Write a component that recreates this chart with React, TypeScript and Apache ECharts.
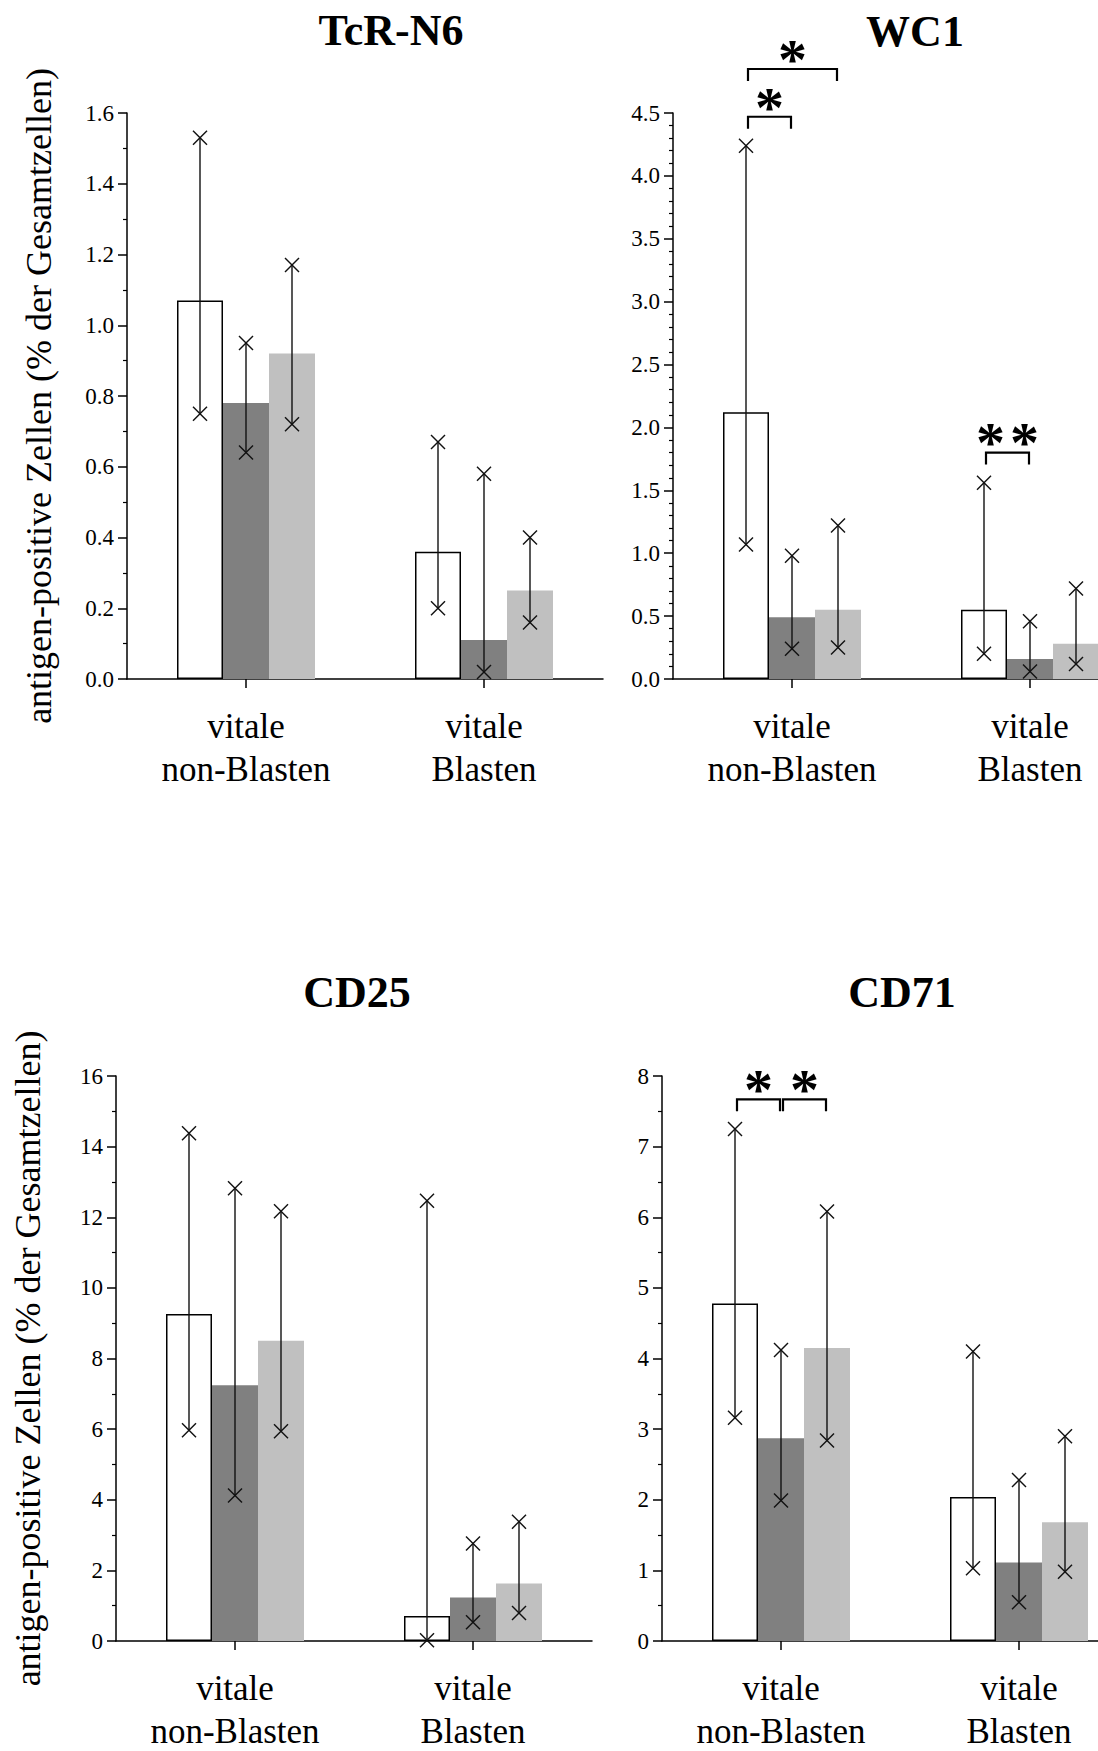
import React, { useEffect, useRef } from 'react';
import * as echarts from 'echarts';

// ---------- data ----------
const categories = ['vitale\nnon-Blasten', 'vitale\nBlasten'];
const panelTitles = ['TcR-N6', 'WC1', 'CD25', 'CD71'];
const yAxisTitle = 'antigen-positive Zellen (% der Gesamtzellen)';

// rows: white bar, dark grey bar, light grey bar; columns: categories
const tcrMeans = [[1.07, 0.36], [0.78, 0.11], [0.92, 0.25]];
const tcrLow = [[0.75, 0.2], [0.64, 0.02], [0.72, 0.16]];
const tcrHigh = [[1.53, 0.67], [0.95, 0.58], [1.17, 0.4]];

const wc1Means = [[2.12, 0.55], [0.49, 0.16], [0.55, 0.28]];
const wc1Low = [[1.07, 0.2], [0.24, 0.06], [0.25, 0.12]];
const wc1High = [[4.24, 1.56], [0.98, 0.46], [1.22, 0.72]];

const cd25Means = [[9.26, 0.71], [7.24, 1.23], [8.5, 1.63]];
const cd25Low = [[5.97, 0.02], [4.12, 0.53], [5.94, 0.79]];
const cd25High = [[14.38, 12.47], [12.82, 2.76], [12.17, 3.38]];

const cd71Means = [[4.78, 2.04], [2.87, 1.11], [4.15, 1.68]];
const cd71Low = [[3.16, 1.03], [1.99, 0.55], [2.84, 0.98]];
const cd71High = [[7.25, 4.1], [4.12, 2.28], [6.08, 2.9]];

const yMax = [1.6, 4.5, 16, 8];
const yInterval = [0.2, 0.5, 2, 1];
const yDecimals = [1, 1, 0, 0];
const yMinorSplit = [2, 5, 2, 2];

// significance brackets: [category, fromBar, toBar, yValue]
const wc1Brackets = [[0, 0, 1, 4.47], [0, 0, 2, 4.85], [1, 0, 1, 1.8]];
const wc1BracketLabels = ['*', '*', '**'];
const cd71Brackets = [[0, 0, 1, 7.67], [0, 1, 2, 7.67]];
const cd71BracketLabels = ['*', '*'];

const panelMeans = [tcrMeans, wc1Means, cd25Means, cd71Means];
const panelLow = [tcrLow, wc1Low, cd25Low, cd71Low];
const panelHigh = [tcrHigh, wc1High, cd25High, cd71High];
const panelBrackets = [[], wc1Brackets, [], cd71Brackets];
const panelBracketLabels = [[], wc1BracketLabels, [], cd71BracketLabels];

// ---------- layout / style ----------
const GRIDS = [
  { left: 127, top: 113, width: 476, height: 566 },
  { left: 673, top: 113, width: 476, height: 566 },
  { left: 116, top: 1076, width: 476, height: 565 },
  { left: 662, top: 1076, width: 476, height: 565 },
];
const TITLE_POS = [[391, 8], [915, 9], [357, 970], [902, 970]];
const BAR_W = 46;
const FONT = '"Liberation Serif", "Times New Roman", serif';
const BAR_STYLES = [
  { color: '#ffffff', borderColor: '#000000', borderWidth: 1.5 },
  { color: '#808080' },
  { color: '#c0c0c0' },
];
const INK = '#111111';
const STAR_SIZE = 58;

function buildOption() {
  const series: any[] = [];
  for (let p = 0; p < 4; p++) {
    for (let s = 0; s < 3; s++) {
      series.push({
        type: 'bar',
        xAxisIndex: p,
        yAxisIndex: p,
        data: panelMeans[p][s],
        barWidth: BAR_W,
        barGap: '0%',
        itemStyle: BAR_STYLES[s],
        silent: true,
        z: 2,
      });
    }
    for (let s = 0; s < 3; s++) {
      const lows = panelLow[p][s];
      const highs = panelHigh[p][s];
      series.push({
        type: 'custom',
        xAxisIndex: p,
        yAxisIndex: p,
        z: 5,
        clip: false,
        silent: true,
        encode: { x: 0, y: 2 },
        data: categories.map((_, c) => [c, lows[c], highs[c]]),
        renderItem: (params: any, api: any) => {
          const c = api.value(0);
          const lo = api.coord([c, api.value(1)]);
          const hi = api.coord([c, api.value(2)]);
          const x = lo[0] + (s - 1) * BAR_W;
          const h = 7;
          const st = { stroke: INK, lineWidth: 1.4 };
          const cross = (y: number) => [
            { type: 'line', shape: { x1: x - h, y1: y - h, x2: x + h, y2: y + h }, style: st },
            { type: 'line', shape: { x1: x - h, y1: y + h, x2: x + h, y2: y - h }, style: st },
          ];
          return {
            type: 'group',
            children: [
              { type: 'line', shape: { x1: x, y1: lo[1], x2: x, y2: hi[1] }, style: st },
              ...cross(lo[1]),
              ...cross(hi[1]),
            ],
          };
        },
      });
    }
    if (panelBrackets[p].length) {
      const labels = panelBracketLabels[p];
      series.push({
        type: 'custom',
        xAxisIndex: p,
        yAxisIndex: p,
        z: 6,
        clip: false,
        silent: true,
        encode: { x: 0, y: 3 },
        data: panelBrackets[p],
        renderItem: (params: any, api: any) => {
          const c = api.value(0);
          const a = api.value(1);
          const b = api.value(2);
          const pt = api.coord([c, api.value(3)]);
          const x1 = pt[0] + (a - 1) * BAR_W + 2;
          const x2 = pt[0] + (b - 1) * BAR_W - 1;
          const y = pt[1];
          const label = labels[params.dataIndex];
          const n = label.length;
          const mid = (x1 + x2) / 2;
          const children: any[] = [
            {
              type: 'polyline',
              shape: { points: [[x1, y + 12], [x1, y], [x2, y], [x2, y + 12]] },
              style: { stroke: '#000', lineWidth: 2.2, fill: null },
            },
          ];
          for (let k = 0; k < n; k++) {
            children.push({
              type: 'text',
              x: mid + (k - (n - 1) / 2) * 34,
              y: y - 19 + 0.16 * STAR_SIZE,
              style: {
                text: '*',
                font: `bold ${STAR_SIZE}px ${FONT}`,
                fill: '#000',
                align: 'center',
                verticalAlign: 'middle',
                textAlign: 'center',
                textVerticalAlign: 'middle',
              },
            });
          }
          return { type: 'group', children };
        },
      });
    }
  }

  return {
    animation: false,
    backgroundColor: '#ffffff',
    textStyle: { fontFamily: FONT },
    title: panelTitles.map((t, i) => ({
      text: t,
      left: TITLE_POS[i][0],
      top: TITLE_POS[i][1],
      textAlign: 'center',
      padding: 0,
      textStyle: { fontFamily: FONT, fontWeight: 'bold', fontSize: 44, color: '#000' },
    })),
    grid: GRIDS.map((g) => ({ ...g, containLabel: false, outerBoundsMode: 'none' })),
    xAxis: GRIDS.map((_, i) => ({
      type: 'category',
      gridIndex: i,
      data: categories,
      boundaryGap: true,
      axisLine: { show: true, lineStyle: { color: '#000', width: 1.5 } },
      axisTick: { show: true, alignWithLabel: true, length: 9, lineStyle: { color: '#000', width: 1.5 } },
      axisLabel: {
        fontFamily: FONT,
        fontSize: 35,
        color: '#000',
        lineHeight: 43,
        margin: 26,
        interval: 0,
        hideOverlap: false,
      },
      splitLine: { show: false },
    })),
    yAxis: GRIDS.map((_, i) => ({
      type: 'value',
      gridIndex: i,
      min: 0,
      max: yMax[i],
      interval: yInterval[i],
      axisLine: { show: true, lineStyle: { color: '#000', width: 1.5 } },
      axisTick: { show: true, length: 9, lineStyle: { color: '#000', width: 1.5 } },
      minorTick: { show: true, splitNumber: yMinorSplit[i], length: 4, lineStyle: { color: '#000', width: 1.2 } },
      splitLine: { show: false },
      minorSplitLine: { show: false },
      axisLabel: {
        fontFamily: FONT,
        fontSize: 23,
        color: '#000',
        margin: 13,
        formatter: (v: number) => v.toFixed(yDecimals[i]),
      },
      name: i % 2 === 0 ? yAxisTitle : '',
      nameLocation: 'middle',
      nameGap: 70,
      nameTextStyle: { fontFamily: FONT, fontSize: 36, color: '#000' },
    })),
    series,
  };
}

export default function App() {
  const ref = useRef<HTMLDivElement>(null);
  useEffect(() => {
    if (!ref.current) return;
    const chart = echarts.init(ref.current, undefined, { renderer: 'svg' });
    chart.setOption(buildOption() as any);
    return () => chart.dispose();
  }, []);
  return (
    <div
      ref={ref}
      style={{ position: 'absolute', left: 0, top: 0, width: 1098, height: 1751, background: '#fff' }}
    />
  );
}
